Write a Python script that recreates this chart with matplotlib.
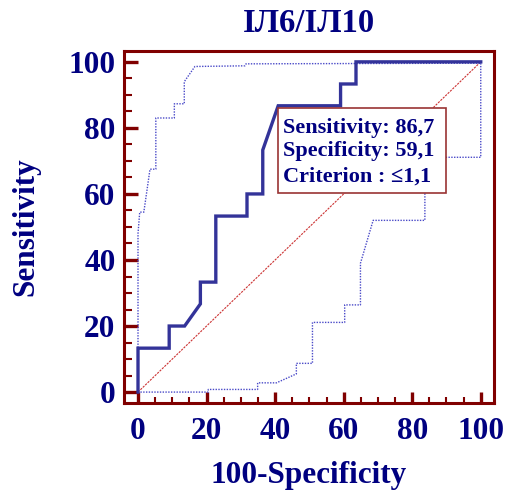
import matplotlib
matplotlib.use("Agg")
import matplotlib.pyplot as plt
from matplotlib.ticker import MultipleLocator
from matplotlib.patches import Rectangle

# ROC curve (100-Specificity, Sensitivity)
roc_x = [0, 0, 9.1, 9.1, 13.6, 18.2, 18.2, 22.7, 22.7, 31.8, 31.8, 36.4, 36.4, 40.9, 59.1, 59.1, 63.6, 63.6, 100]
roc_y = [0, 13.3, 13.3, 20, 20, 26.7, 33.3, 33.3, 53.3, 53.3, 60, 60, 73.3, 86.7, 86.7, 93.3, 93.3, 100, 100]

# Upper confidence bound
up_x = [0, 0, 0.5, 1.7, 3.5, 5.2, 5.2, 10.6, 10.6, 13.5, 13.5, 16.6, 31.2, 31.5, 100]
up_y = [0, 48, 54.5, 54.5, 67.5, 67.5, 83, 83, 87.3, 87.3, 94, 98.6, 98.8, 99.4, 99.6]

# Lower confidence bound
lo_x = [100, 100, 83.7, 83.7, 68.6, 64.9, 64.9, 60.3, 60.3, 50.9, 50.9, 46.2, 46.2, 40.4, 34.9, 34.9, 20.5, 20.5, 0]
lo_y = [99.6, 71.1, 71.1, 52, 52, 39, 26.4, 26.4, 21.1, 21.1, 8.7, 8.7, 5.5, 2.8, 2.8, 0.8, 0.8, 0, 0]

title = "ІЛ6/ІЛ10"
xlabel = "100-Specificity"
ylabel = "Sensitivity"
box_lines = ["Sensitivity: 86,7", "Specificity: 59,1", "Criterion : \u22641,1"]
ticks = [0, 20, 40, 60, 80, 100]

navy = "#000080"
dred = "#800000"

plt.rcParams['font.family'] = ['Liberation Serif', 'DejaVu Serif']
plt.rcParams['font.weight'] = 'bold'

fig = plt.figure(figsize=(5.08, 4.90), dpi=100)
ax = fig.add_axes([0.244, 0.1776, 0.728, 0.7184])

ax.plot([0, 100], [0, 100], color="#cc3333", lw=0.8, ls=(0, (2, 1)))
ax.plot(up_x, up_y, color="#4a4ac8", lw=1.0, ls=(0, (1, 1)))
ax.plot(lo_x, lo_y, color="#4a4ac8", lw=1.0, ls=(0, (1, 1)))
ax.plot(roc_x, roc_y, color="#333399", lw=2.4, solid_joinstyle='miter')

ax.set_xlim(-4.1, 103.8)
ax.set_ylim(-3.3, 103.3)
ax.set_xticks(ticks)
ax.set_yticks(ticks)
ax.xaxis.set_minor_locator(MultipleLocator(5))
ax.yaxis.set_minor_locator(MultipleLocator(5))

for s in ax.spines.values():
    s.set_color(dred)
    s.set_linewidth(2.2)

ax.tick_params(axis='y', which='major', direction='in', length=10, width=2.4, color=dred,
               labelsize=22.5, labelcolor=navy, pad=6)
ax.tick_params(axis='y', which='minor', direction='in', length=6, width=1.5, color=dred)
ax.tick_params(axis='x', which='major', direction='in', length=8, width=2.4, color=dred,
               labelsize=22.5, labelcolor=navy, pad=10)
ax.tick_params(axis='x', which='minor', direction='in', length=4, width=1.5, color=dred)
for lab in ax.get_xticklabels() + ax.get_yticklabels():
    lab.set_fontweight('bold')

ax.set_title(title, fontsize=23.5, fontweight='bold', color=navy, pad=14)
ax.set_xlabel(xlabel, fontsize=22.5, fontweight='bold', color=navy, labelpad=11)
ax.set_ylabel(ylabel, fontsize=22.5, fontweight='bold', color=navy, labelpad=20)

ax.add_patch(Rectangle((0.416, 0.597), 0.454, 0.241, transform=ax.transAxes,
                       facecolor='white', edgecolor='#993333', lw=1.2, zorder=5))
for yy, line in zip([0.767, 0.701, 0.630], box_lines):
    ax.text(0.430, yy, line, transform=ax.transAxes, fontsize=16, fontweight='bold',
            color=navy, va='baseline', ha='left', zorder=6)

fig.savefig("out.png", dpi=100)
